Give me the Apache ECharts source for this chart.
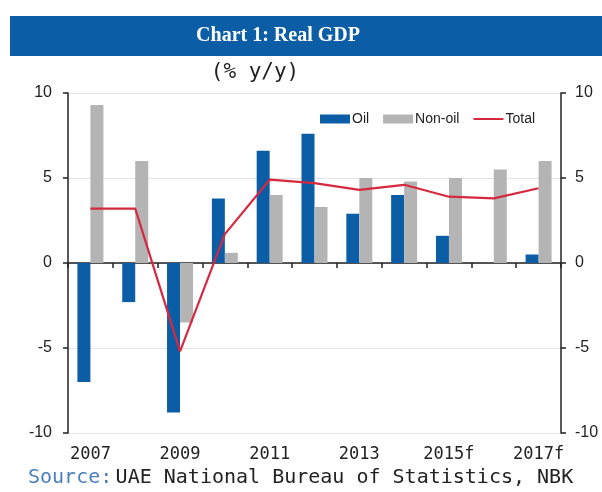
<!DOCTYPE html>
<html>
<head>
<meta charset="utf-8">
<script src="https://cdn.jsdelivr.net/npm/echarts@6/dist/echarts.min.js"></script>
<style>
  html, body { margin: 0; padding: 0; background: #fff; }
  #chart { width: 602px; height: 492px; }
</style>
</head>
<body>
<div id="chart"></div>
<script>
const years = ['2007', '2008', '2009', '2010', '2011', '2012', '2013', '2014', '2015f', '2016f', '2017f']
const oil = [-7.0, -2.3, -8.8, 3.8, 6.6, 7.6, 2.9, 4.0, 1.6, 0, 0.5]
const nonOil = [9.3, 6.0, -3.5, 0.6, 4.0, 3.3, 5.0, 4.8, 5.0, 5.5, 6.0]
const total = [3.2, 3.2, -5.2, 1.7, 4.9, 4.7, 4.3, 4.6, 3.9, 3.8, 4.4]
const yTicks = [-10, -5, 0, 5, 10]

const chart = echarts.init(document.getElementById('chart'))

const valueAxis = (position) => ({
  type: 'value',
  position: position,
  min: yTicks[0],
  max: yTicks[yTicks.length - 1],
  interval: 5,
  axisLine: { show: true, lineStyle: { color: '#222', width: 1.5 } },
  axisTick: { show: true, length: 5, lineStyle: { color: '#222', width: 1.5 } },
  axisLabel: {
    color: '#222',
    fontSize: 16,
    fontFamily: 'Liberation Sans, Arial, sans-serif',
    margin: position === 'left' ? 16 : 14
  },
  splitLine: {
    show: position === 'left',
    lineStyle: { color: '#e4e4e4' }
  }
})

const option = {
  backgroundColor: '#fff',
  animation: false,
  graphic: [
    {
      type: 'rect',
      shape: { x: 10, y: 16, width: 592, height: 40 },
      style: { fill: '#0b5ea6' }
    },
    {
      type: 'text',
      x: 278,
      y: 36,
      style: {
        text: 'Chart 1: Real GDP',
        fill: '#fff',
        font: 'bold 20px "Liberation Serif", "DejaVu Serif", serif',
        align: 'center',
        verticalAlign: 'middle'
      }
    },
    {
      type: 'text',
      x: 255,
      y: 73,
      style: {
        text: '(% y/y)',
        fill: '#222',
        font: '21px "DejaVu Sans Mono", monospace',
        align: 'center',
        verticalAlign: 'middle'
      }
    },
    {
      type: 'text',
      x: 28,
      y: 478,
      style: {
        rich: {
          s: { fill: '#4a7fbb', font: '20px "DejaVu Sans Mono", monospace' },
          t: { fill: '#222', font: '20px "DejaVu Sans Mono", monospace' }
        },
        text: '{s|Source:} {t|UAE National Bureau of Statistics, NBK}',
        verticalAlign: 'middle'
      }
    }
  ],
  legend: {
    left: 315,
    top: 107,
    itemGap: 14,
    itemWidth: 30,
    itemHeight: 9,
    textStyle: {
      color: '#222',
      fontSize: 14,
      fontFamily: 'Liberation Sans, Arial, sans-serif',
      padding: [0, 0, 0, -3]
    },
    data: [
      { name: 'Oil', icon: 'rect' },
      { name: 'Non-oil', icon: 'rect' },
      { name: 'Total', icon: 'path://M0,0h30v2h-30z' }
    ]
  },
  grid: {
    left: 68,
    right: 41,
    top: 93,
    bottom: 59
  },
  xAxis: [
    {
      type: 'category',
      data: years,
      axisLine: { onZero: true, lineStyle: { color: '#222', width: 1.5 } },
      axisTick: { show: true, length: 5, lineStyle: { color: '#222', width: 1.5 } },
      axisLabel: { show: false }
    },
    {
      type: 'category',
      data: years,
      position: 'bottom',
      axisLine: { show: false, onZero: false },
      axisTick: { show: false },
      axisLabel: {
        interval: 1,
        color: '#222',
        fontSize: 17,
        fontFamily: 'DejaVu Sans Mono, monospace',
        margin: 13
      }
    }
  ],
  yAxis: [valueAxis('left'), valueAxis('right')],
  series: [
    {
      name: 'Oil',
      type: 'bar',
      barWidth: 13,
      barGap: '0%',
      itemStyle: { color: '#0b5ea6' },
      data: oil
    },
    {
      name: 'Non-oil',
      type: 'bar',
      barWidth: 13,
      barGap: '0%',
      itemStyle: { color: '#b4b4b4' },
      data: nonOil
    },
    {
      name: 'Total',
      type: 'line',
      symbol: 'none',
      lineStyle: { color: '#d6283f', width: 2.2 },
      itemStyle: { color: '#d6283f' },
      data: total
    }
  ]
}

chart.setOption(option)
</script>
</body>
</html>
